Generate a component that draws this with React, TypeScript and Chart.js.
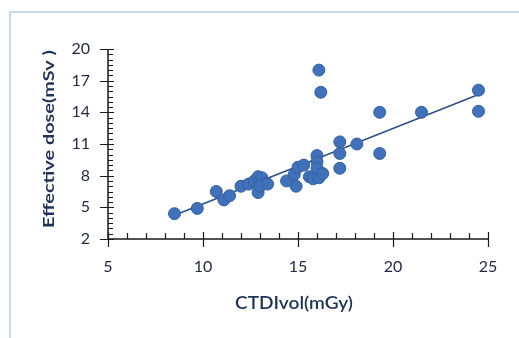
import React, { useEffect, useRef } from "react";
import { Chart, registerables } from "chart.js";

Chart.register(...registerables);

const ctdiVol: number[] = [
  8.5, 9.7, 10.7, 11.1, 11.4, 12.0, 12.4, 12.7, 12.9, 13.1, 13.3, 12.9, 13.0, 13.4,
  14.4, 14.9, 14.8, 15.0, 15.3, 15.6, 15.8, 16.0, 16.0, 16.0, 16.1, 16.3, 16.1, 16.2,
  17.2, 17.2, 17.2, 18.1, 19.3, 19.3, 21.5, 24.5, 24.5,
];
const effectiveDose: number[] = [
  4.4, 4.9, 6.5, 5.7, 6.1, 7.0, 7.2, 7.5, 7.9, 7.8, 7.3, 6.4, 7.0, 7.2,
  7.5, 7.0, 8.1, 8.8, 9.0, 7.9, 7.7, 9.9, 9.3, 8.7, 7.8, 8.2, 18.0, 15.9,
  11.2, 10.1, 8.7, 11.0, 14.0, 10.1, 14.0, 16.1, 14.1,
];

const xTickLabels: number[] = [5, 10, 15, 20, 25];
const yTickLabels: number[] = [2, 5, 8, 11, 14, 17, 20];
const xTitle = "CTDIvol(mGy)";
const yTitle = "Effective dose(mSv )";

function regression(xs: number[], ys: number[]) {
  const n = xs.length;
  const mx = xs.reduce((a, b) => a + b, 0) / n;
  const my = ys.reduce((a, b) => a + b, 0) / n;
  let sxy = 0;
  let sxx = 0;
  for (let i = 0; i < n; i++) {
    sxy += (xs[i] - mx) * (ys[i] - my);
    sxx += (xs[i] - mx) * (xs[i] - mx);
  }
  const m = sxy / sxx;
  return { m, b: my - m * mx };
}

const labelColor = "#222b45";
const titleColor = "#1f3358";

function fitText(ctx: CanvasRenderingContext2D, text: string, x: number, y: number, target: number) {
  const w = ctx.measureText(text).width;
  const s = target / w;
  ctx.save();
  ctx.translate(x, y);
  ctx.scale(s, 1);
  ctx.fillText(text, 0, 0);
  ctx.restore();
}

const axesPlugin = {
  id: "excelAxes",
  beforeDraw(chart: any) {
    const ctx = chart.ctx;
    ctx.save();
    ctx.strokeStyle = "#cdd8e6";
    ctx.lineWidth = 2;
    ctx.beginPath();
    ctx.moveTo(10, 400);
    ctx.lineTo(10, 12);
    ctx.lineTo(600, 12);
    ctx.stroke();
    ctx.restore();
  },
  afterDraw(chart: any) {
    const ctx = chart.ctx;
    const xs = chart.scales.x;
    const ys = chart.scales.y;
    const left = xs.getPixelForValue(xs.min);
    const right = xs.getPixelForValue(xs.max);
    const bottom = ys.getPixelForValue(ys.min);
    const top = ys.getPixelForValue(ys.max);
    ctx.save();
    ctx.strokeStyle = "#1a1a1a";
    ctx.lineWidth = 1.5;
    ctx.beginPath();
    ctx.moveTo(left, top);
    ctx.lineTo(left, bottom);
    ctx.lineTo(right, bottom);
    ctx.stroke();
    ctx.lineWidth = 1.2;
    ctx.beginPath();
    for (let v = xs.min; v <= xs.max + 1e-9; v += 1) {
      const px = Math.round(xs.getPixelForValue(v)) + 0.5;
      if (Math.abs(v % 5) < 1e-9) {
        ctx.moveTo(px, bottom - 7);
        ctx.lineTo(px, bottom + 8);
      } else {
        ctx.moveTo(px, bottom - 6);
        ctx.lineTo(px, bottom);
      }
    }
    for (let v = ys.min; v <= ys.max + 1e-9; v += 0.5) {
      const py = Math.round(ys.getPixelForValue(v)) + 0.5;
      if (Math.abs((v - 2) % 3) < 1e-9) {
        ctx.moveTo(left - 8, py);
        ctx.lineTo(left + 6, py);
      } else {
        ctx.moveTo(left, py);
        ctx.lineTo(left + 5, py);
      }
    }
    ctx.stroke();

    ctx.fillStyle = labelColor;
    ctx.font = "16px Lato";
    ctx.textAlign = "center";
    ctx.textBaseline = "middle";
    for (const v of xTickLabels) {
      ctx.fillText(String(v), xs.getPixelForValue(v), bottom + 28);
    }
    ctx.textAlign = "right";
    for (const v of yTickLabels) {
      ctx.fillText(String(v), left - 18, ys.getPixelForValue(v));
    }

    ctx.font = "600 18px Lato";
    ctx.textAlign = "center";
    ctx.fillStyle = titleColor;
    fitText(ctx, xTitle, 294, bottom + 64, 118);

    ctx.save();
    ctx.translate(49, 139);
    ctx.rotate(-Math.PI / 2);
    ctx.font = "bold 16px Lato";
    fitText(ctx, yTitle, 0, 0, 178);
    ctx.restore();
    ctx.restore();
  },
};

export default function App() {
  const ref = useRef<HTMLCanvasElement | null>(null);
  useEffect(() => {
    if (!ref.current) return;
    const { m, b } = regression(ctdiVol, effectiveDose);
    const minX = Math.min(...ctdiVol);
    const maxX = Math.max(...ctdiVol);
    const chart = new Chart(ref.current, {
      type: "scatter",
      data: {
        datasets: [
          {
            label: "Effective dose",
            data: ctdiVol.map((x, i) => ({ x, y: effectiveDose[i] })),
            backgroundColor: "#4071ba",
            borderColor: "#33609f",
            borderWidth: 1,
            pointRadius: 6,
            order: 1,
          },
          {
            label: "Linear trend",
            type: "line",
            data: [
              { x: minX, y: m * minX + b },
              { x: maxX, y: m * maxX + b },
            ],
            borderColor: "#2c4f86",
            borderWidth: 1.5,
            pointRadius: 0,
            fill: false,
            order: 2,
          } as any,
        ],
      },
      options: {
        responsive: false,
        animation: false,
        layout: { padding: { left: 108, top: 49, right: 31, bottom: 99 } },
        plugins: { legend: { display: false }, tooltip: { enabled: false } },
        scales: {
          x: { type: "linear", min: 5, max: 25, display: false },
          y: { type: "linear", min: 2, max: 20, display: false },
        },
      },
      plugins: [axesPlugin],
    });
    return () => chart.destroy();
  }, []);
  return (
    <div style={{ position: "absolute", left: 0, top: 0, width: 519, height: 338, background: "#fff" }}>
      <canvas ref={ref} width={519} height={338} style={{ width: 519, height: 338 }} />
    </div>
  );
}
